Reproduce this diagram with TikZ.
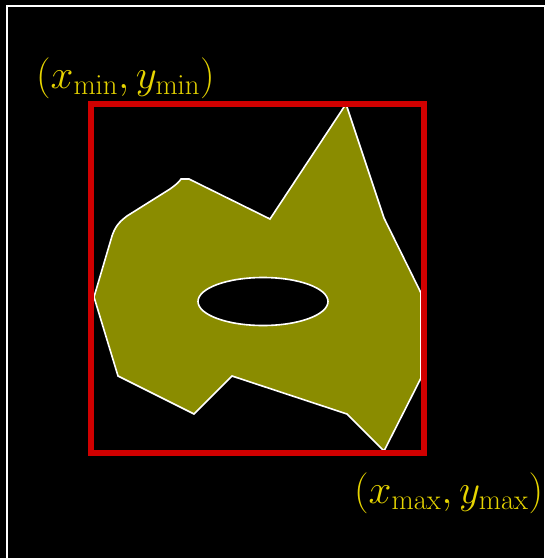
\documentclass[tikz,border=0pt]{standalone}
\usepackage{fix-cm}
\usepackage{tikz}
\usetikzlibrary{shapes.geometric}

\definecolor{olivefill}{RGB}{138,140,0}
\definecolor{boxred}{RGB}{208,0,0}
\definecolor{labelyellow}{RGB}{230,212,0}

\begin{document}
\begin{tikzpicture}[
    x=1pt,
    y=-1pt,
    region/.style={
        fill=olivefill,
        draw=white,
        line width=1.6pt,
        line join=miter
    },
    hole/.style={
        ellipse,
        fill=black,
        draw=white,
        line width=1.6pt,
        minimum width=130pt,
        minimum height=48pt,
        inner sep=0pt
    },
    bbox/.style={
        draw=boxred,
        line width=6pt
    },
    corner/.style={
        text=labelyellow,
        font=\fontsize{41}{45}\selectfont,
        inner sep=0pt
    }
]

% background and frame
\useasboundingbox (0,0) rectangle (545,558);
\fill[black] (0,0) rectangle (545,558);
\begin{scope}
    \clip (0,0) rectangle (545,558);
    \draw[white, line width=2pt] (7,6) rectangle (545,600);
\end{scope}

% the region with its hole
\draw[region]
    (346,104) -- (384,218) -- (421,293) -- (421,378) --
    (384,451) -- (347,414) -- (232,376) -- (194,414) --
    (118,376) -- (94,297) -- (112,236)
    .. controls (115,227) and (119,222) .. (127,216) --
    (170,189) .. controls (177,184) and (179,182) .. (181,179) --
    (189,179) -- (270,219) -- cycle;

\node[hole] (hole) at (263,301.5) {};

% bounding box
\draw[bbox] (91,103.5) rectangle (424,452.5);

% corner labels
\node[corner, anchor=base west] (minlabel) at (36,88)
    {$(x_{\mathrm{min}}, y_{\mathrm{min}})$};

\node[corner, anchor=base west] (maxlabel) at (354,503)
    {$(x_{\mathrm{max}}, y_{\mathrm{max}})$};

\end{tikzpicture}
\end{document}
